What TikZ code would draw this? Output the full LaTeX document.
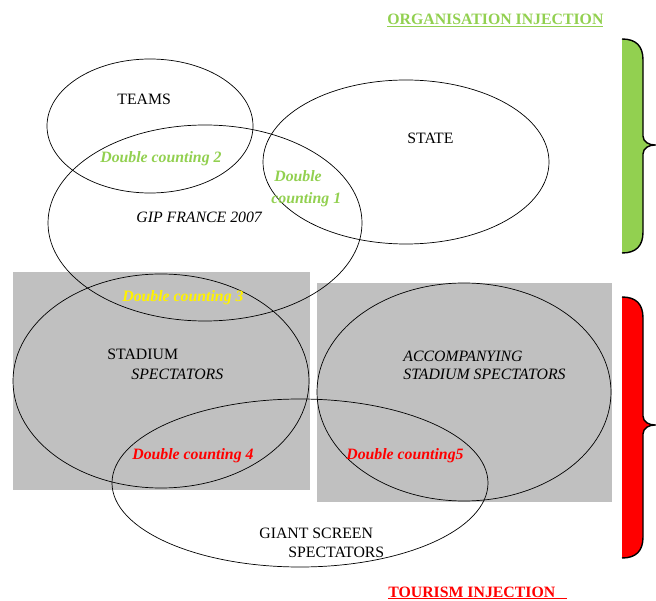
\documentclass[tikz,border=0pt]{standalone}
\usepackage{fontspec}
\setmainfont{Liberation Serif}
\definecolor{orggreen}{HTML}{92D050}
\definecolor{boxgray}{HTML}{C0C0C0}
\begin{document}
\begin{tikzpicture}[x=1pt, y=-1pt, line width=0.7pt,
	every node/.style={font=\fontsize{15.8}{19}\selectfont, inner sep=0pt, anchor=base west},
	dc/.style={font=\fontsize{15.8}{19}\selectfont\bfseries\itshape},
	inj/.style={font=\fontsize{15.8}{19}\selectfont\bfseries}]
	\useasboundingbox (0,0) rectangle (656,601);
	\fill[boxgray] (13,272) rectangle (310,490);
	\fill[boxgray] (317,283) rectangle (612,502);
	% the sets
	\draw (150,126) ellipse [x radius=103, y radius=67];
	\draw (406,162) ellipse [x radius=143, y radius=82];
	\draw (205,223) ellipse [x radius=157, y radius=98];
	\draw (161,381) ellipse [x radius=148, y radius=107];
	\draw (464,392) ellipse [x radius=147, y radius=109];
	\draw (300,483) ellipse [x radius=188, y radius=84];
	\node (teams) at (117,105) {TEAMS};
	\node (state) at (407,144) {STATE};
	\node (gip) at (136,223) {\itshape GIP FRANCE 2007};
	\node (stadium) at (107,360) {STADIUM};
	\node (stadspec) at (131,380) {\itshape SPECTATORS};
	\node (accomp) at (403,362) {\itshape ACCOMPANYING};
	\node (accspec) at (403,380) {\itshape STADIUM SPECTATORS};
	\node (giant) at (259,538) {GIANT SCREEN};
	\node (giantspec) at (288,557) {SPECTATORS};
	% double countings
	\node[dc, orggreen] (dctwo) at (100,163) {Double counting 2};
	\node[dc, orggreen] (dconea) at (274,182) {Double};
	\node[dc, orggreen] (doneb) at (271,204) {counting 1};
	\node[dc, yellow] (dcthree) at (122,302) {Double counting 3};
	\node[dc, red] (dcfour) at (132,460) {Double counting 4};
	\node[dc, red] (dcfive) at (346,460) {Double counting5};
	% injections
	\node[inj, orggreen] (org) at (387,25) {\underline{ORGANISATION INJECTION}};
	\node[inj, red] (tour) at (388,597) {\underline{TOURISM INJECTION\hspace{12pt}}};
	\foreach \c/\t/\m/\b in {orggreen/39/145/253, red/297/425/558}{
		\fill[\c] (622,\t) .. controls (636,\t) and (643,\t+7) .. (643,\t+21) -- (643,\m-9)
			.. controls (643,\m-3) and (649,\m) .. (655,\m) .. controls (649,\m) and (643,\m+3) .. (643,\m+9)
			-- (643,\b-21) .. controls (643,\b-7) and (636,\b) .. (622,\b) -- cycle;
		\draw[line width=1.4pt] (622,\t) .. controls (636,\t) and (643,\t+7) .. (643,\t+21) -- (643,\m-9)
			.. controls (643,\m-3) and (649,\m) .. (655,\m) .. controls (649,\m) and (643,\m+3) .. (643,\m+9)
			-- (643,\b-21) .. controls (643,\b-7) and (636,\b) .. (622,\b);
	}
\end{tikzpicture}
\end{document}
